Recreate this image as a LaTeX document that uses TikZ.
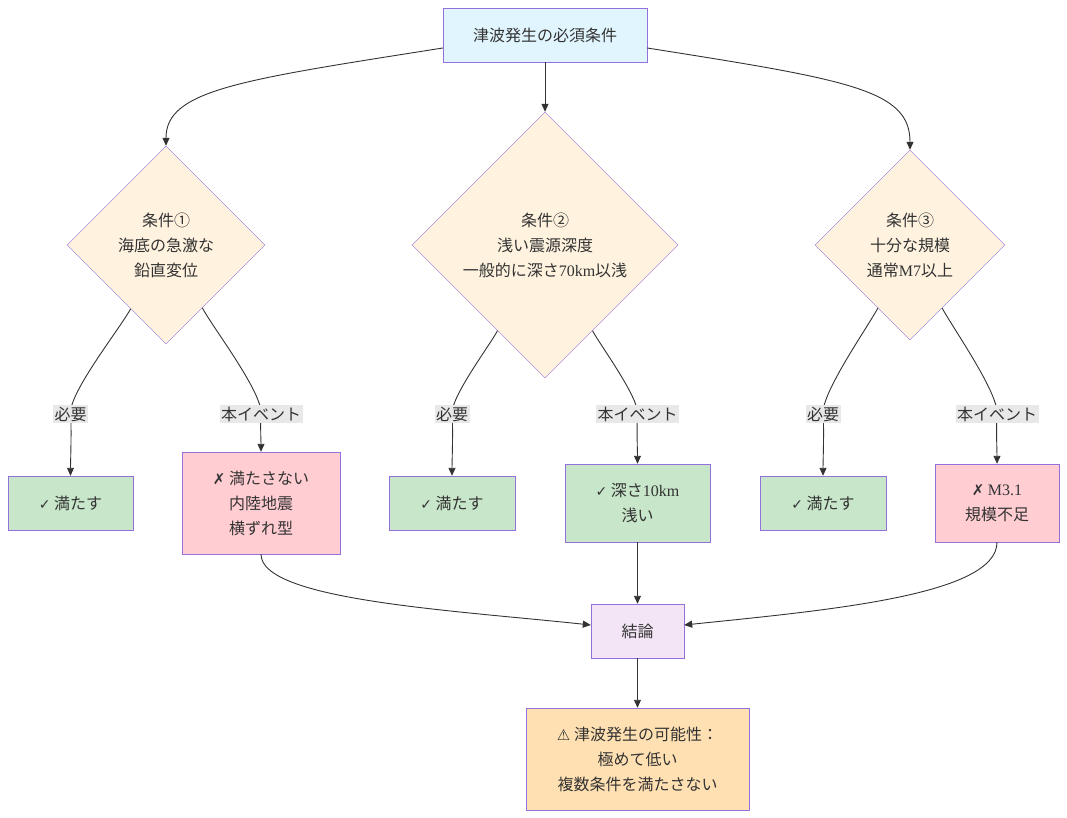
\documentclass[tikz,border=0pt]{standalone}
\usepackage{fontspec}
\setmainfont{Noto Sans CJK JP}
\newfontfamily\lat{Liberation Serif}
\newfontfamily\sym{DejaVu Sans}
\usetikzlibrary{arrows.meta,positioning,shapes.geometric}

\definecolor{ink}{HTML}{333333}
\definecolor{rim}{HTML}{9370DB}
\definecolor{topfill}{HTML}{E1F5FE}
\definecolor{condfill}{HTML}{FFF3E0}
\definecolor{okfill}{HTML}{C8E6C9}
\definecolor{ngfill}{HTML}{FFCDD2}
\definecolor{endfill}{HTML}{F3E5F5}
\definecolor{warnfill}{HTML}{FFE0B2}
\definecolor{lblgray}{HTML}{E8E8E8}

\newcommand{\okmark}{{\sym\fontsize{14}{25}\selectfont ✓}}
\newcommand{\ngmark}{{\sym\fontsize{15}{25}\selectfont ✗}}

\begin{document}
\begin{tikzpicture}[
  x=1pt, y=-1pt,
  every node/.style={font=\fontsize{16}{25}\selectfont, align=center, text=ink},
  box/.style={rectangle, draw=rim, fill=#1, minimum height=54pt, inner sep=0pt},
  cond/.style={diamond, draw=rim, fill=condfill, inner sep=0pt},
  lbl/.style={fill=lblgray, inner sep=1.5pt},
  arrow/.style={-{Triangle[length=8pt, width=7pt]}, draw=ink, line width=0.9pt}
]
\useasboundingbox (0,0) rectangle (1067,818);

\coordinate (lblrow) at (0,414);

\node[box=topfill, minimum width=204pt] (must) at (545,35) {津波発生の必須条件};

\node[cond, minimum size=198pt] (c1) at (166,245) {条件①\\海底の急激な\\鉛直変位};
\node[cond, minimum size=266pt] (c2) at (545,245) {条件②\\浅い震源深度\\一般的に深さ{\lat 70km}以浅};
\node[cond, minimum size=190pt] (c3) at (910,245) {条件③\\十分な規模\\通常{\lat M7}以上};

\node[box=okfill, minimum width=125pt] (ok1) at (70.5,503) {\okmark\ 満たす};
\node[box=ngfill, minimum width=158pt, minimum height=102pt] (ev1) at (261,503) {\ngmark\ 満たさない\\内陸地震\\横ずれ型};
\node[box=okfill, minimum width=126pt] (ok2) at (452,503) {\okmark\ 満たす};
\node[box=okfill, minimum width=145pt, minimum height=78pt] (ev2) at (637.5,503) {\okmark\ 深さ{\lat 10km}\\浅い};
\node[box=okfill, minimum width=126pt] (ok3) at (823,503) {\okmark\ 満たす};
\node[box=ngfill, minimum width=124pt, minimum height=78pt] (ev3) at (997,503) {\ngmark\ {\lat M3.1}\\規模不足};

\node[box=endfill, minimum width=93pt] (concl) at (637.5,631) {結論};
\node[box=warnfill, minimum width=223pt, minimum height=102pt] (verdict) at (637.5,759) {{\sym\fontsize{15}{25}\selectfont ⚠} 津波発生の可能性：\\極めて低い\\複数条件を満たさない};

% top to the three conditions
\draw[arrow] ([yshift=-13pt]must.west) .. controls (240,80) and (166,90) .. (c1.north);
\draw[arrow] (must.south) -- (c2.north);
\draw[arrow] ([yshift=-13pt]must.east) .. controls (850,80) and (910,90) .. (c3.north);

% conditions to their checks
\draw[arrow] (c1.241) to[out=-118, in=95, looseness=0.45] (ok1.north |- lblrow) node[lbl] {必要} to[out=-85, in=90, looseness=0.6] (ok1.north);
\draw[arrow] (c1.300) to[out=-62, in=85, looseness=0.45] (ev1.north |- lblrow) node[lbl] {本イベント} to[out=-95, in=90, looseness=0.6] (ev1.north);
\draw[arrow] (c2.241) to[out=-118, in=95, looseness=0.45] (ok2.north |- lblrow) node[lbl] {必要} to[out=-85, in=90, looseness=0.6] (ok2.north);
\draw[arrow] (c2.299) to[out=-62, in=85, looseness=0.45] (ev2.north |- lblrow) node[lbl] {本イベント} to[out=-95, in=90, looseness=0.6] (ev2.north);
\draw[arrow] (c3.243) to[out=-118, in=95, looseness=0.45] (ok3.north |- lblrow) node[lbl] {必要} to[out=-85, in=90, looseness=0.6] (ok3.north);
\draw[arrow] (c3.297) to[out=-62, in=85, looseness=0.45] (ev3.north |- lblrow) node[lbl] {本イベント} to[out=-95, in=90, looseness=0.6] (ev3.north);

% into the conclusion
\draw[arrow] (ev1.south) .. controls (261,600) and (450,610) .. ([yshift=6pt]concl.west);
\draw[arrow] (ev2.south) -- (concl.north);
\draw[arrow] (ev3.south) .. controls (997,595) and (830,610) .. ([yshift=6pt]concl.east);
\draw[arrow] (concl.south) -- (verdict.north);

\end{tikzpicture}
\end{document}
